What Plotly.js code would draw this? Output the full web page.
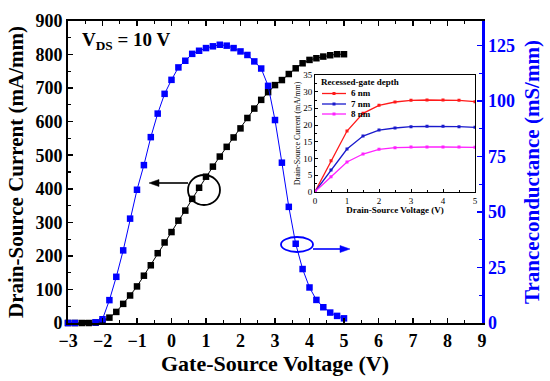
<!DOCTYPE html>
<html><head><meta charset="utf-8">
<script src="https://cdn.plot.ly/plotly-3.0.1.min.js"></script>
<style>html,body{margin:0;padding:0;background:#fff}#chart{width:550px;height:381px}</style>
</head><body><div id="chart"></div>
<script>
// Main chart data (V_GS sweep)
const vgs = [-3,-2.8,-2.6,-2.4,-2.2,-2.0,-1.8,-1.6,-1.4,-1.2,-1.0,-0.8,-0.6,-0.4,-0.2,0,0.2,0.4,0.6,0.8,1.0,1.2,1.4,1.6,1.8,2.0,2.2,2.4,2.6,2.8,3.0,3.2,3.4,3.6,3.8,4.0,4.2,4.4,4.6,4.8,5.0];
const idsMain = [0,0,0,0,1,5,16,33,57,82,109,141,172,208,240,271,305,335,370,403,436,466,496,525,553,580,611,639,665,688,709,724,742,759,774,784,789,794,798,801,801];
const gm = [0,0,-2,-0.8,0.3,1.7,10.3,20.8,32.7,47,60,71.1,83.7,94.3,103.2,109.5,115.1,118.1,121.2,122.6,123.8,124.6,125.3,124.9,123.8,122.3,120.7,117.8,114.6,106.8,91.4,72.2,52.3,35.7,24.3,16,10.4,7.1,4.7,3.2,2.1];
// Inset data (V_DS sweep)
const vds = [0,0.5,1.0,1.5,2.0,2.5,3.0,3.5,4.0,4.5,5.0];
const ids6 = [0,9.3,18.2,23.5,25.9,26.9,27.4,27.5,27.5,27.4,27.0];
const ids7 = [0,6.5,12.8,16.7,18.5,19.1,19.5,19.6,19.6,19.5,19.3];
const ids8 = [0,4.5,8.9,11.3,12.7,13.2,13.4,13.4,13.4,13.4,13.3];
const insetNames = ['6 nm','7 nm','8 nm'];
const insetColors = ['#ff1a1a','#1a1acc','#ff22ff'];

const FONT = 'Liberation Serif, Times New Roman, serif';
const BLUE = '#0000ff';
const L = 68, T = 21, W = 414, H = 302;
const px = x => (x - L) / W;
const py = y => (T + H - y) / H;
const P = (x, y) => px(x) + ',' + py(y);

const traces = [
  {x: vgs, y: idsMain, type:'scatter', mode:'lines+markers', xaxis:'x', yaxis:'y',
   line:{color:'#000', width:1}, marker:{symbol:'square', size:6.5, color:'#000'}, cliponaxis:false, showlegend:false},
  {x: vgs, y: gm, type:'scatter', mode:'lines+markers', xaxis:'x', yaxis:'y2',
   line:{color:BLUE, width:1}, marker:{symbol:'square', size:6.5, color:BLUE}, cliponaxis:false, showlegend:false},
];
[ids6, ids7, ids8].forEach((arr, i) => {
  traces.push({x: vds, y: arr, type:'scatter', mode:'lines+markers', xaxis:'x2', yaxis:'y3', name: insetNames[i],
    line:{color: insetColors[i], width:1.3}, marker:{symbol:'square', size:3, color: insetColors[i]}, showlegend:false});
});

const shapes = [
  {type:'circle', xref:'paper', yref:'paper', x0:px(188), x1:px(220), y0:py(205), y1:py(175), line:{color:'#000', width:1.8}},
  {type:'circle', xref:'paper', yref:'paper', x0:px(281), x1:px(313), y0:py(252), y1:py(237), line:{color:BLUE, width:1.8}},
  // black arrow (pointing left)
  {type:'line', xref:'paper', yref:'paper', x0:px(188), x1:px(157), y0:py(183), y1:py(183), line:{color:'#000', width:1.6}},
  {type:'path', xref:'paper', yref:'paper', path:'M' + P(149,183) + 'L' + P(159,179.5) + 'L' + P(159,186.5) + 'Z', fillcolor:'#000', line:{color:'#000', width:0.5}},
  // blue arrow (pointing right)
  {type:'line', xref:'paper', yref:'paper', x0:px(313), x1:px(342), y0:py(249), y1:py(249), line:{color:BLUE, width:1.6}},
  {type:'path', xref:'paper', yref:'paper', path:'M' + P(350,249) + 'L' + P(340,245.5) + 'L' + P(340,252.5) + 'Z', fillcolor:BLUE, line:{color:BLUE, width:0.5}},
];
const annotations = [
  {xref:'paper', yref:'paper', x:px(80), y:py(41), xanchor:'left', yanchor:'middle', showarrow:false,
   text:'<b>V<sub>DS</sub> = 10 V</b>', font:{family:FONT, size:19, color:'#000'}},
  {xref:'paper', yref:'paper', x:px(319), y:py(82), xanchor:'left', yanchor:'middle', showarrow:false,
   text:'<b>Recessed-gate depth</b>', font:{family:FONT, size:9, color:'#000'}},
];
const legY = [93.5, 104, 114];
insetNames.forEach((n, i) => {
  shapes.push({type:'line', xref:'paper', yref:'paper', x0:px(322), x1:px(346), y0:py(legY[i]), y1:py(legY[i]), line:{color: insetColors[i], width:1.3}});
  shapes.push({type:'rect', xref:'paper', yref:'paper', x0:px(332.5), x1:px(335.5), y0:py(legY[i]+1.5), y1:py(legY[i]-1.5), line:{width:0}, fillcolor: insetColors[i]});
  annotations.push({xref:'paper', yref:'paper', x:px(349), y:py(legY[i]), xanchor:'left', yanchor:'middle', showarrow:false,
    text:'<b>' + n + '</b>', font:{family:FONT, size:9, color:'#000'}});
});

const tickFont = {family:FONT, size:18, color:'#000'};
const layout = {
  width:550, height:381,
  margin:{l:L, r:550-L-W, t:T, b:381-T-H, pad:0},
  paper_bgcolor:'#fff', plot_bgcolor:'#fff',
  font:{family:FONT},
  showlegend:false,
  xaxis:{range:[-3,9], dtick:1, tick0:0, ticks:'inside', ticklen:5, tickwidth:1.5, tickcolor:'#000',
    minor:{dtick:0.5, ticks:'inside', ticklen:3, tickwidth:1.2, tickcolor:'#000'},
    showline:true, linecolor:'#000', linewidth:2, mirror:'ticks', showgrid:false, zeroline:false,
    tickfont:{...tickFont, weight:'bold'}, tickformat:'d',
    title:{text:'<b>Gate-Source Voltage (V)</b>', font:{family:FONT, size:22, color:'#000'}, standoff:2}},
  yaxis:{range:[0,900], dtick:100, ticks:'inside', ticklen:5, tickwidth:1.5, tickcolor:'#000',
    minor:{dtick:50, ticks:'inside', ticklen:3, tickwidth:1.2, tickcolor:'#000'},
    showline:true, linecolor:'#000', linewidth:2, showgrid:false, zeroline:false,
    tickfont:{...tickFont, weight:'bold'},
    title:{text:'<b>Drain-Source Current (mA/mm)</b>', font:{family:FONT, size:21, color:'#000'}, standoff:6}},
  yaxis2:{range:[0,136], dtick:25, overlaying:'y', side:'right', ticks:'inside', ticklen:5, tickwidth:1.5, tickcolor:BLUE,
    minor:{dtick:12.5, ticks:'inside', ticklen:3, tickwidth:1.2, tickcolor:BLUE},
    showline:true, linecolor:BLUE, linewidth:2.5, showgrid:false, zeroline:false,
    tickfont:{family:FONT, size:18, color:BLUE, weight:'bold'},
    title:{text:'<b>Tranceconductance (mS/mm)</b>', font:{family:FONT, size:21, color:BLUE}, standoff:10}},
  xaxis2:{domain:[px(315), px(475)], anchor:'y3', range:[0,5], dtick:1, ticks:'inside', ticklen:3, tickwidth:1, tickcolor:'#000',
    minor:{dtick:0.5, ticks:'inside', ticklen:2, tickcolor:'#000'},
    showline:true, linecolor:'#000', linewidth:1, mirror:true, showgrid:false, zeroline:false,
    tickfont:{family:FONT, size:9, color:'#000'},
    title:{text:'<b>Drain-Source Voltage (V)</b>', font:{family:FONT, size:9, color:'#000'}, standoff:0}},
  yaxis3:{domain:[py(191.7), py(75)], anchor:'x2', range:[0,35], dtick:5, ticks:'inside', ticklen:3, tickwidth:1, tickcolor:'#000',
    minor:{dtick:2.5, ticks:'inside', ticklen:2, tickcolor:'#000'},
    showline:true, linecolor:'#000', linewidth:1, mirror:true, showgrid:false, zeroline:false,
    tickfont:{family:FONT, size:9, color:'#000'},
    title:{text:'Drain-Source Current (mA/mm)', font:{family:FONT, size:8, color:'#000'}, standoff:1}},
  shapes: shapes,
  annotations: annotations,
};
Plotly.newPlot('chart', traces, layout, {displayModeBar:false, staticPlot:true});
</script></body></html>
